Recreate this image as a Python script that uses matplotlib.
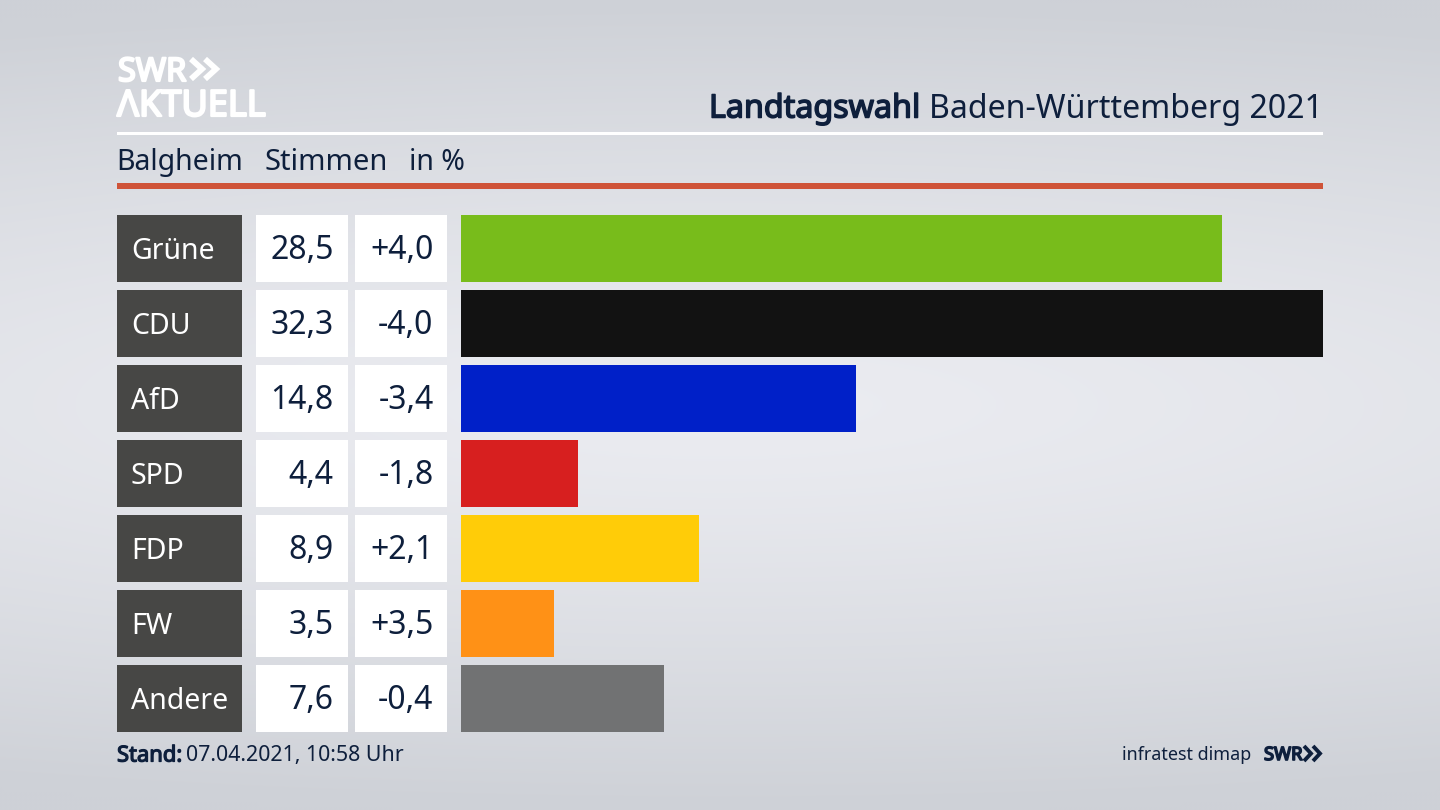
import numpy as np
import matplotlib
matplotlib.use("Agg")
import matplotlib.pyplot as plt
from matplotlib.patches import Rectangle
from matplotlib import patheffects as pe

parties = ["Grüne", "CDU", "AfD", "SPD", "FDP", "FW", "Andere"]
stimmen = [28.5, 32.3, 14.8, 4.4, 8.9, 3.5, 7.6]
diffs = ["+4,0", "-4,0", "-3,4", "-1,8", "+2,1", "+3,5", "-0,4"]
colors = ["#78bc1b", "#121212", "#0020c8", "#d71f1f", "#ffcc08", "#ff9116", "#717273"]

navy = "#0e1f3c"
plt.rcParams["font.family"] = ["Noto Sans", "DejaVu Sans"]


def heavy(col, w):
    # no real bold face gets picked up, so thicken the outline
    return [pe.withStroke(linewidth=w, foreground=col)]


fig = plt.figure(figsize=(14.4, 8.1), dpi=100)

# background, pixel coords on top of it
bg = fig.add_axes([0, 0, 1, 1])
bg.set_xlim(0, 1440)
bg.set_ylim(810, 0)
bg.axis("off")
xx, yy = np.meshgrid(np.linspace(-1, 1, 288), np.linspace(-1, 1, 162))
r = np.clip(np.sqrt((xx * 0.35) ** 2 + (yy * 1.0) ** 2), 0, 1)
light = np.array([235, 236, 241]) / 255
dark = np.array([206, 209, 215]) / 255
img = light + (dark - light) * r[..., None] ** 1.3
bg.imshow(img, extent=[0, 1440, 810, 0], aspect="auto", interpolation="bicubic", zorder=0)

# logo
bg.text(118, 81, "SWR", color="white", fontsize=23.4, va="baseline", ha="left", path_effects=heavy("white", 1.6))
for x0 in [191, 205]:
    bg.plot([x0, x0 + 11, x0], [59, 69, 79], color="white", lw=4.2, solid_joinstyle="miter", solid_capstyle="butt")
bg.text(117, 116, "ΛKTUELL", color="white", fontsize=26, va="baseline", ha="left", path_effects=heavy("white", 1.6))

# header
bg.text(920.5, 117.5, "Landtagswahl", color=navy, fontsize=23.2, ha="right", va="baseline", path_effects=heavy(navy, 1.1))
bg.text(1323, 117.5, "Baden-Württemberg 2021", color=navy, fontsize=23.1, ha="right", va="baseline")
bg.add_patch(Rectangle((117, 132), 1206, 3, color="white", lw=0))
bg.text(116, 170, "Balgheim", color=navy, fontsize=20.5, va="baseline")
bg.text(265, 170, "Stimmen", color=navy, fontsize=21, va="baseline")
bg.text(409, 170, "in %", color=navy, fontsize=20.5, va="baseline")
bg.add_patch(Rectangle((117, 183), 1206, 6, color="#cf5338", lw=0))

# table cells left of the bars
for i, party in enumerate(parties):
    top = 215 + 75 * i
    h = 66.5
    mid = top + h / 2
    bg.add_patch(Rectangle((117, top), 124.5, h, color="#474745", lw=0))
    bg.add_patch(Rectangle((256, top), 92, h, color="white", lw=0))
    bg.add_patch(Rectangle((355, top), 92, h, color="white", lw=0))
    base = mid + 11
    bg.text(131, base, party, color="white", fontsize=20.5, va="baseline")
    bg.text(333.5, base, f"{stimmen[i]:.1f}".replace(".", ","), color=navy, fontsize=23, ha="right", va="baseline")
    bg.text(433.5, base, diffs[i], color=navy, fontsize=23, ha="right", va="baseline")

# footer
bg.text(117, 761.5, "Stand:", color=navy, fontsize=15.8, va="baseline", path_effects=heavy(navy, 0.9))
bg.text(186, 761.5, "07.04.2021, 10:58 Uhr", color=navy, fontsize=15.4, va="baseline")
bg.text(1251, 760, "infratest dimap", color=navy, fontsize=12.9, ha="right", va="baseline")
bg.text(1264, 760, "SWR", color=navy, fontsize=13.2, va="baseline", path_effects=heavy(navy, 1.2))
for x0 in [1304, 1313]:
    bg.plot([x0, x0 + 7, x0], [746, 753.5, 761], color=navy, lw=2.8, solid_joinstyle="miter", solid_capstyle="butt")

# bars
ax = fig.add_axes([461 / 1440, 1 - 731.5 / 810, (1323 - 461) / 1440, (731.5 - 215) / 810])
ax.patch.set_alpha(0)
ypos = np.arange(len(parties))
ax.barh(ypos, stimmen, height=66.5 / 75, color=colors)
ax.set_xlim(0, 32.3)
ax.set_ylim(6 + 33.25 / 75, -33.25 / 75)
ax.axis("off")

fig.savefig("out.png", dpi=100)
